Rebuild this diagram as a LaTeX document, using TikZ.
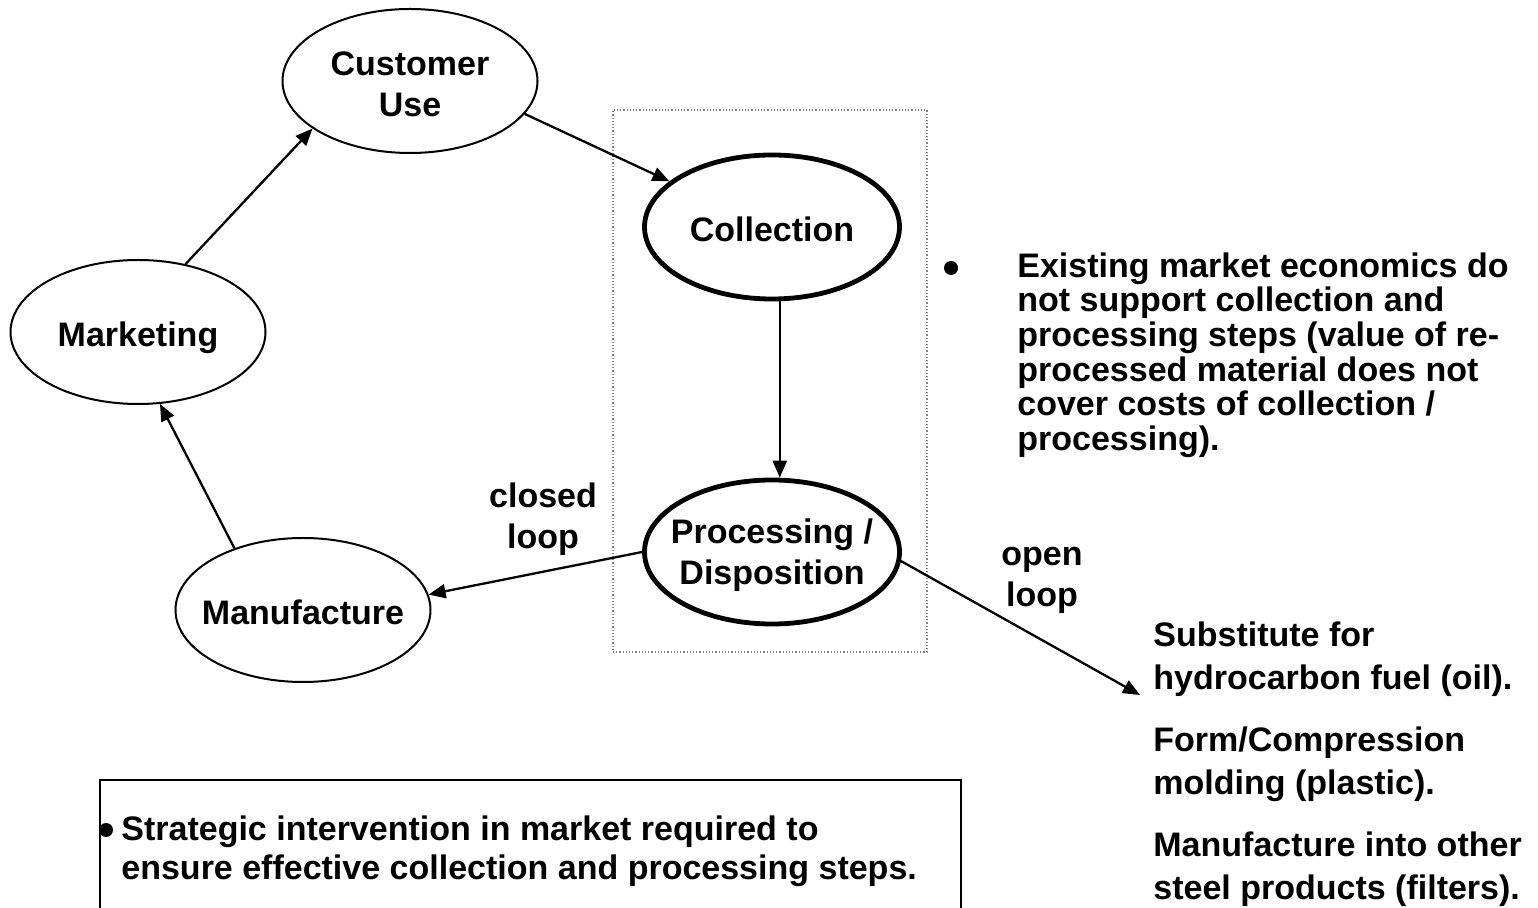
\documentclass[tikz,border=0pt]{standalone}
\usepackage{fontspec}
\setmainfont{Liberation Sans}
\usetikzlibrary{shapes.geometric,arrows.meta}
\newcommand{\ellabel}[2][7.25pt]{\raisebox{-#1}[0pt][0pt]{\makebox[0pt]{\begin{tabular}{@{}c@{}}#2\end{tabular}}}}
\begin{document}
\begin{tikzpicture}[x=0.5pt,y=-0.5pt,
  every node/.style={font=\fontsize{17}{20.5}\selectfont\bfseries},
  stage/.style={ellipse, draw, line width=1pt, minimum width=127.5pt, minimum height=72pt, inner sep=0pt},
  keystage/.style={stage, line width=2.4pt},
  flow/.style={-{Triangle[length=8.5pt,width=7pt]}, line width=1.15pt},
  lbl/.style={align=center, inner sep=0pt},
  para/.style={align=left, anchor=west, inner sep=0pt},
  dot/.style={circle, fill=black, inner sep=0pt, minimum size=7pt}
]
\useasboundingbox (0,0) rectangle (1538,908);

% dotted frame around collection / processing
\node (grp) [draw=gray, densely dotted, line width=0.6pt, minimum width=157pt, minimum height=271pt, inner sep=0pt] at (770,381) {};

% stages
\node[stage] (cust) at (410,81) {\ellabel[7.75pt]{Customer\\Use}};
\node[stage] (mkt) at (138,332) {\ellabel{Marketing}};
\node[stage] (manu) at (303,610) {\ellabel{Manufacture}};
\node[keystage] (coll) at (772,227) {\ellabel{Collection}};
\node[keystage] (proc) at (772,552) {\ellabel[6pt]{Processing /\\Disposition}};

% connectors
\draw[flow] (mkt.55) -- (cust.206);
\draw[flow] (cust.-16) -- (coll.156);
\draw[flow] (coll.276) -- (proc.84);
\draw[flow] (proc.180) -- (manu.7.5);
\draw[flow] (manu.138) -- (mkt.-73);
\coordinate (olend) at (1140,695);
\draw[flow] (proc.-4) -- (olend);

% loop labels
\node[lbl] (closedlbl) at (543,519) {closed\\loop};
\node[lbl] (openlbl) at (1042,580) {open\\loop};

% right-hand bullet text
\node[dot] (b1) at (951,268) {};
\node[para, font=\fontsize{17}{17.3}\selectfont\bfseries] (econ) at (1017,355) {Existing market economics do\\not support collection and\\processing steps (value of re-\\processed material does not\\cover costs of collection /\\processing).};

% open loop outcomes
\node[para, font=\fontsize{17}{21.5}\selectfont\bfseries] (use1) at (1153,659) {Substitute for\\hydrocarbon fuel (oil).};
\node[para, font=\fontsize{17}{21.5}\selectfont\bfseries] (use2) at (1153,764) {Form/Compression\\molding (plastic).};
\node[para, font=\fontsize{17}{21.5}\selectfont\bfseries] (use3) at (1153,869) {Manufacture into other\\steel products (filters).};

% bottom box
\draw[line width=1pt] (100,930) |- (961,780) -- (961,930);
\node[dot] (b2) at (106,830) {};
\node[para, font=\fontsize{17}{19.5}\selectfont\bfseries] (strat) at (121,851) {Strategic intervention in market required to\\ensure effective collection and processing steps.};
\end{tikzpicture}
\end{document}
